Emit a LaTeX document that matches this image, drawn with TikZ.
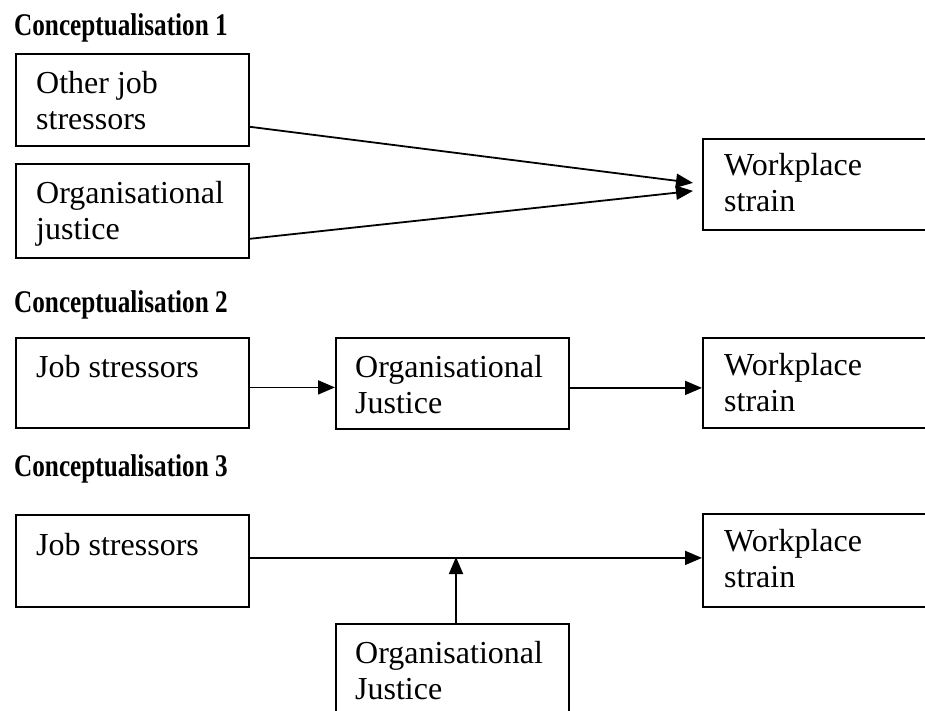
\documentclass[tikz,border=0pt]{standalone}
\usepackage{fontspec}
\usepackage{graphicx}
\setmainfont{Liberation Serif}
\usetikzlibrary{arrows.meta}

\tikzset{
  box/.style={draw, line width=1.8pt, minimum width=233pt, minimum height=92pt,
              inner sep=0pt, anchor=north west},
  txt/.style={inner sep=0pt, align=left, anchor=north west,
              font=\fontsize{32}{36}\selectfont},
  head/.style={inner sep=0pt, anchor=base west,
               font=\fontsize{31.5}{36}\selectfont\bfseries},
  arr/.style={line width=1.8pt, -{Triangle[length=17pt,width=14pt]}},
}
\newcommand{\headtext}[1]{\scalebox{0.8}[1]{#1}}

\begin{document}
\begin{tikzpicture}[x=1pt,y=-1pt]
\useasboundingbox (0,0) rectangle (925,711);
\clip (0,0) rectangle (925,711);

% ---- first model: two predictors ----
\node[head] (h1) at (14,36) {\headtext{Conceptualisation 1}};
\node[box] (a1) at (15,53) {};
\node[box, minimum height=94pt] (a2) at (15,163) {};
\node[box, minimum height=91pt] (aw) at (702,138) {};
\node[txt] (a1t) at ([xshift=21pt,yshift=-18pt]a1.north west) {Other job\\stressors};
\node[txt] (a2t) at ([xshift=21pt,yshift=-18pt]a2.north west) {Organisational\\justice};
\node[txt] (awt) at ([xshift=22pt,yshift=-15pt]aw.north west) {Workplace\\strain};
\draw[arr] ([yshift=20pt]a1.south east) -- ([xshift=-9pt,yshift=1.5pt]aw.west);
\draw[arr] ([yshift=20pt]a2.south east) -- ([xshift=-9pt,yshift=-6.5pt]aw.west);

% ---- second model: mediation ----
\node[head] (h2) at (14,312) {\headtext{Conceptualisation 2}};
\node[box, minimum height=90pt] (b1) at (15,337) {};
\node[box, minimum height=91pt] (b2) at (335,337) {};
\node[box, minimum height=90pt] (bw) at (702,337) {};
\node[txt] (b1t) at ([xshift=21pt,yshift=-18pt]b1.north west) {Job stressors};
\node[txt] (b2t) at ([xshift=20pt,yshift=-18pt]b2.north west) {Organisational\\Justice};
\node[txt] (bwt) at ([xshift=22pt,yshift=-16pt]bw.north west) {Workplace\\strain};
\draw[arr] ([yshift=-4.5pt]b1.east) -- ([yshift=-4.5pt]b1.east -| b2.west);
\draw[arr] ([yshift=-4.5pt]b2.east) -- ([yshift=-4.5pt]b2.east -| bw.west);

% ---- third model: moderation ----
\node[head] (h3) at (14,476) {\headtext{Conceptualisation 3}};
\node[box] (c1) at (15,514) {};
\node[box, minimum height=93pt] (cw) at (702,513) {};
\node[box, minimum height=93pt] (c2) at (335,623) {};
\node[txt] (c1t) at ([xshift=21pt,yshift=-19pt]c1.north west) {Job stressors};
\node[txt] (cwt) at ([xshift=22pt,yshift=-16pt]cw.north west) {Workplace\\strain};
\node[txt] (c2t) at ([xshift=20pt,yshift=-18pt]c2.north west) {Organisational\\Justice};
\coordinate (cm) at (456,557);
\draw[arr] ([yshift=3pt]c1.east) -- ([yshift=3pt]c1.east -| cw.west);
\draw[arr] (cm |- c2.north) -- (cm);
\end{tikzpicture}
\end{document}
